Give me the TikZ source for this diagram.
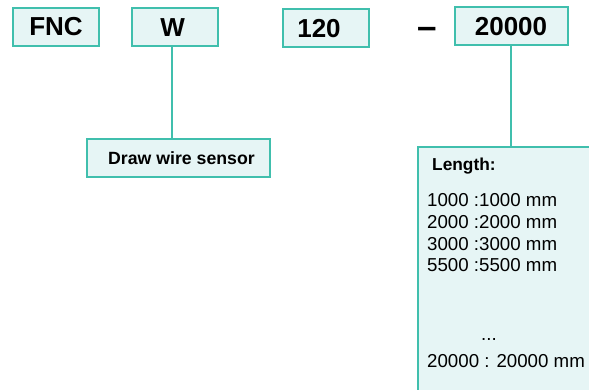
\documentclass[tikz,border=0pt]{standalone}
\usepackage{fontspec}
\setmainfont{Liberation Sans}
\usetikzlibrary{positioning}

\definecolor{boxline}{RGB}{64,191,173}
\definecolor{boxfill}{RGB}{230,245,245}

\tikzset{
  codebox/.style={draw=boxline, fill=boxfill, line width=2pt, inner sep=0pt,
    minimum width=86pt, minimum height=38pt, font=\fontsize{26}{30}\selectfont\bfseries},
  labelbox/.style={draw=boxline, fill=boxfill, line width=2pt, inner sep=0pt},
  link/.style={draw=boxline, line width=1.4pt},
  lenline/.style={anchor=base west, inner sep=0pt, font=\fontsize{18.7}{22}\selectfont}
}

\begin{document}
\begin{tikzpicture}[x=1pt,y=-1pt]
    \useasboundingbox (0,0) rectangle (589,389);
    \node[codebox] (fnc) at (56,26.7) {FNC};
    \node[codebox] (wire) at (174.7,27.2) {W\hspace*{4pt}};
    \node[codebox] (model) at (326,28.3) {120\hspace*{14pt}};
    \node[inner sep=0pt, font=\fontsize{35}{35}\selectfont\bfseries] (dash) at (427,32.5) {–};
    \node[codebox, minimum width=113pt] (range) at (511,26.2) {20000};
    \node[labelbox, minimum width=183pt, minimum height=38pt,
        font=\fontsize{17.7}{20}\selectfont\bfseries] (sensor) at (178.7,158) {\hspace*{5.6pt}Draw wire sensor};
    \begin{scope}
        \clip (0,0) rectangle (589,389);
        \node[labelbox, anchor=north west, minimum width=200pt, minimum height=260pt] (lenbox) at (417,146) {};
    \end{scope}
    \draw[link] ([xshift=-2.7pt]wire.south) -- ([xshift=-2.7pt]wire.south |- sensor.north);
    \draw[link] (range.south) -- (range.south |- lenbox.north);
    % length list
    \node[lenline, font=\fontsize{17.3}{20}\selectfont\bfseries] (lenhead) at (432,170.7) {Length:};
    \node[lenline] (len1) at (427,206.7) {1000 :1000 mm};
    \node[lenline] (len2) at (427,228.3) {2000 :2000 mm};
    \node[lenline] (len3) at (427,250) {3000 :3000 mm};
    \node[lenline] (len4) at (427,271.7) {5500 :5500 mm};
    \node[lenline] (lendots) at (481,340) {...};
    \node[lenline] (len5) at (427,367.7) {20000 : 20000 mm};
\end{tikzpicture}
\end{document}
